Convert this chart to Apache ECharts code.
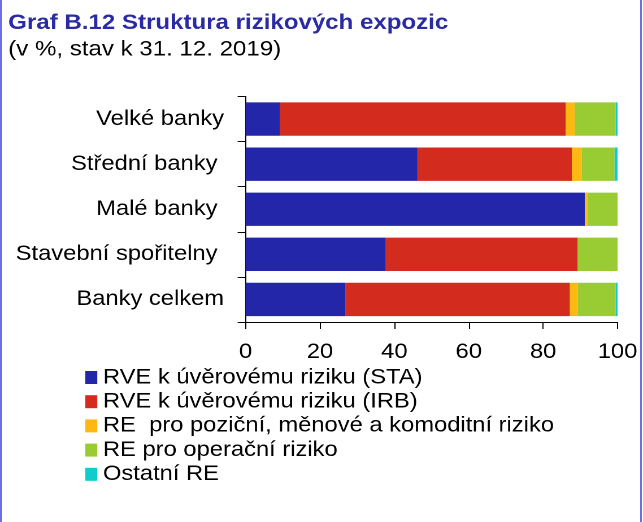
<!DOCTYPE html>
<html>
<head>
<meta charset="utf-8">
<script src="https://cdn.jsdelivr.net/npm/echarts@6/dist/echarts.min.js"></script>
<style>
  html, body { margin: 0; padding: 0; background: #fff; }
  #wrap { position: relative; width: 643px; height: 522px; overflow: hidden; background: #fff; }
  #chart { position: absolute; left: 0; top: 0; width: 569px; height: 522px; transform: scaleX(1.13); transform-origin: 0 0; }
  .edge { position: absolute; top: 0; width: 2px; height: 522px; background: #6e6ee8; }
</style>
</head>
<body>
<div id="wrap">
  <div id="chart"></div>
  <div class="edge" style="left:0;width:1.5px;"></div>
  <div class="edge" style="left:640px;"></div>
</div>
<script>
const categories = ['Velké banky', 'Střední banky ', 'Malé banky ', 'Stavební spořitelny ', 'Banky celkem'];
const seriesNames = [
  'RVE k úvěrovému riziku (STA)',
  'RVE k úvěrovému riziku (IRB)',
  'RE  pro poziční, měnové a komoditní riziko',
  'RE pro operační riziko',
  'Ostatní RE'
];
const staValues = [9.3, 46.3, 91.2, 37.7, 26.8];
const irbValues = [76.8, 41.4, 0, 51.6, 60.4];
const positionalValues = [2.4, 2.7, 0.9, 0, 2.1];
const operationalValues = [11.0, 8.8, 7.9, 10.7, 10.2];
const otherValues = [0.5, 0.8, 0, 0, 0.5];
const xTicks = [0, 20, 40, 60, 80, 100];

const colors = ['#2326a8', '#d42b1f', '#fdb812', '#99cc33', '#11cccc'];
const allValues = [staValues, irbValues, positionalValues, operationalValues, otherValues];
const FONT = '"Liberation Sans", Arial, sans-serif';

const chart = echarts.init(document.getElementById('chart'), null, { renderer: 'canvas', devicePixelRatio: 2 });
chart.setOption({
  animation: false,
  textStyle: { fontFamily: FONT },
  title: [
    { text: 'Graf B.12 Struktura rizikových expozic', left: 7.3, top: 12.8, padding: 0,
      textStyle: { fontFamily: FONT, fontSize: 21.3, fontWeight: 'bold', color: '#2a2aa5' } },
    { text: '(v %, stav k 31. 12. 2019)', left: 7.3, top: 39.3, padding: 0,
      textStyle: { fontFamily: FONT, fontSize: 21.3, fontWeight: 'normal', color: '#000' } }
  ],
  legend: {
    orient: 'vertical', left: 75.5, top: 367, padding: 0,
    itemWidth: 10.6, itemHeight: 13, itemGap: 3.2,
    icon: 'rect',
    textStyle: { fontFamily: FONT, fontSize: 21, lineHeight: 21, color: '#000', padding: [0, 0, 0, 0] },
    data: seriesNames
  },
  grid: { left: 217.3, right: 22.5, top: 96.5, bottom: 200, containLabel: false },
  xAxis: {
    type: 'value', min: xTicks[0], max: xTicks[xTicks.length - 1], interval: 20,
    axisLine: { show: true, lineStyle: { color: '#000', width: 1 } },
    axisTick: { show: true, length: 7, lineStyle: { color: '#000' } },
    splitLine: { show: false },
    axisLabel: { margin: 19.5, fontFamily: FONT, fontSize: 21, color: '#000' }
  },
  yAxis: {
    type: 'category', data: categories, inverse: true,
    axisLine: { show: true, lineStyle: { color: '#000', width: 1 } },
    axisTick: { show: true, length: 7, lineStyle: { color: '#000' } },
    axisLabel: { margin: 19, fontFamily: FONT, fontSize: 21, color: '#000' }
  },
  series: seriesNames.map((name, i) => ({
    name: name, type: 'bar', stack: 'total', barWidth: '74%',
    itemStyle: { color: colors[i] },
    data: allValues[i]
  }))
});
</script>
</body>
</html>
